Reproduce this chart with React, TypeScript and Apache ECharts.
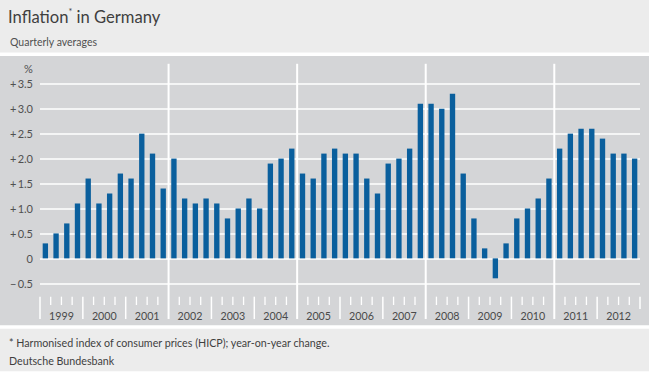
import React, { useEffect, useRef } from 'react';
import * as echarts from 'echarts';

// ---- data ----
const years: string[] = ['1999', '2000', '2001', '2002', '2003', '2004', '2005', '2006', '2007', '2008', '2009', '2010', '2011', '2012'];
const quarterNames: string[] = ['Q1', 'Q2', 'Q3', 'Q4'];
const quarters: string[] = years.flatMap((y) => quarterNames.map((q) => `${y} ${q}`));
const inflation: number[] = [
  0.3, 0.5, 0.7, 1.1,
  1.6, 1.1, 1.3, 1.7,
  1.6, 2.5, 2.1, 1.4,
  2.0, 1.2, 1.1, 1.2,
  1.1, 0.8, 1.0, 1.2,
  1.0, 1.9, 2.0, 2.2,
  1.7, 1.6, 2.1, 2.2,
  2.1, 2.1, 1.6, 1.3,
  1.9, 2.0, 2.2, 3.1,
  3.1, 3.0, 3.3, 1.7,
  0.8, 0.2, -0.4, 0.3,
  0.8, 1.0, 1.2, 1.6,
  2.2, 2.5, 2.6, 2.6,
  2.4, 2.1, 2.1, 2.0,
];
const yMin = -0.5;
const yMax = 4.0;
const yStep = 0.5;

const titleText = '{a|Inflation}{s|*}{a| in Germany}';
const subtitleText = 'Quarterly averages';
const footnoteText = '* Harmonised index of consumer prices (HICP); year-on-year change.';
const sourceText = 'Deutsche Bundesbank';

const FONT = 'Lato, "Open Sans", sans-serif';
const TEXT = '#3f3f3f';
const BAR = '#0a5f9d';
const PANEL = '#d4d5d7';
const PALE = '#ececec';

// boundaries between quarters (decoration: ticks and three-year lines)
const boundaries: number[][] = Array.from({ length: quarters.length + 1 }, (_, i) => [i, 0]);

export default function App() {
  const ref = useRef<HTMLDivElement>(null);
  useEffect(() => {
    document.body.style.margin = '0';
    if (!ref.current) return;
    const chart = echarts.init(ref.current, undefined, { renderer: 'svg' });
    const n = quarters.length;
    chart.setOption({
      animation: false,
      backgroundColor: '#ffffff',
      textStyle: { fontFamily: FONT },
      graphic: [
        { type: 'rect', z: -100, silent: true, shape: { x: 0, y: 0, width: 649, height: 52.5 }, style: { fill: PALE } },
        { type: 'rect', z: -100, silent: true, shape: { x: 0, y: 56, width: 649, height: 269.3 }, style: { fill: PANEL } },
        { type: 'rect', z: -100, silent: true, shape: { x: 0, y: 328.8, width: 649, height: 42.5 }, style: { fill: PALE } },
        {
          type: 'text', x: 8, y: 17, silent: true,
          style: {
            text: titleText, fontFamily: FONT, verticalAlign: 'middle',
            rich: {
              a: { fontSize: 16.6, fill: TEXT, fontFamily: FONT, lineHeight: 20 },
              s: { fontSize: 9, fill: TEXT, fontFamily: FONT, verticalAlign: 'top', lineHeight: 14 },
            },
          },
        },
        { type: 'text', x: 10, y: 42, silent: true, style: { text: subtitleText, fontSize: 10.5, fill: '#505050', fontFamily: FONT, verticalAlign: 'middle' } },
        { type: 'text', x: 28.5, y: 68, silent: true, style: { text: '%', fontSize: 11, fill: '#505050', fontFamily: FONT, align: 'center', verticalAlign: 'middle' } },
        { type: 'text', x: 9, y: 342, silent: true, style: { text: footnoteText, fontSize: 10.7, fill: TEXT, fontFamily: FONT, verticalAlign: 'middle' } },
        { type: 'text', x: 9, y: 360, silent: true, style: { text: sourceText, fontSize: 10.7, fill: TEXT, fontFamily: FONT, verticalAlign: 'middle' } },
      ],
      grid: { left: 40, right: 10, top: 58.8, bottom: 88.7, containLabel: false },
      xAxis: [
        {
          type: 'category', data: quarters, gridIndex: 0, position: 'bottom',
          axisLine: { show: false, onZero: false }, axisTick: { show: false }, axisLabel: { show: false }, splitLine: { show: false },
        },
        {
          type: 'category', data: years, gridIndex: 0, position: 'bottom',
          axisLine: { show: false, onZero: false }, axisTick: { show: false }, splitLine: { show: false },
          axisLabel: { margin: 27, fontSize: 10.7, color: '#4a4a4a', fontFamily: FONT },
        },
      ],
      yAxis: {
        type: 'value', min: yMin, max: yMax, interval: yStep,
        axisLine: { show: false }, axisTick: { show: false },
        splitLine: { show: true, showMaxLine: false, lineStyle: { color: '#ffffff', width: 1.6 } },
        axisLabel: {
          margin: 7, fontSize: 11, color: '#505050', fontFamily: FONT, showMaxLabel: false,
          formatter: (v: number) => {
            if (v >= yMax - 1e-9) return '';
            if (Math.abs(v) < 1e-9) return '0';
            const s = Math.abs(v).toFixed(1);
            return v > 0 ? '+\u2009' + s : '\u2212\u2009' + s;
          },
        },
      },
      series: [
        {
          type: 'bar', data: inflation, xAxisIndex: 0, yAxisIndex: 0,
          barWidth: '50%', itemStyle: { color: BAR }, z: 3, silent: true,
        },
        {
          type: 'custom', xAxisIndex: 0, yAxisIndex: 0, data: boundaries, silent: true, z: 2,
          encode: { x: 0, y: 1 },
          renderItem: (params: any, api: any) => {
            const b = api.value(0);
            const band = api.size([1, 0])[0];
            const x = b < n ? api.coord([b, 0])[0] - band / 2 : api.coord([n - 1, 0])[0] + band / 2;
            let top = -0.768;
            let bottom = -0.935;
            let w = 1.3;
            if (b % 12 === 0 && b > 0 && b < n) { top = 3.9; bottom = -1.215; w = 2; }
            else if (b === n) { bottom = -1.015; w = 1.5; }
            else if (b % 4 === 0) { bottom = -1.215; w = 1.5; }
            const y1 = api.coord([0, top])[1];
            const y2 = api.coord([0, bottom])[1];
            return { type: 'line', shape: { x1: x, y1, x2: x, y2 }, style: { stroke: '#ffffff', lineWidth: w } };
          },
        },
      ],
    });
    return () => chart.dispose();
  }, []);
  return <div ref={ref} style={{ width: 650, height: 372, position: 'fixed', left: 0, top: 0 }} />;
}
